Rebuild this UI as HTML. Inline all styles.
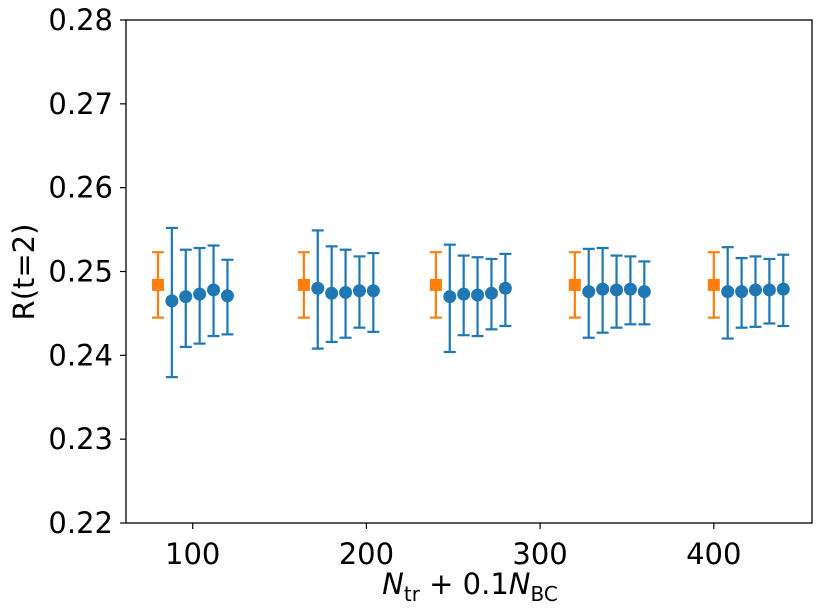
<!DOCTYPE html>
<html><head><meta charset="utf-8"><style>
body{margin:0;background:#fff;}
svg{display:block;font-family:"DejaVu Sans","Liberation Sans",sans-serif;}
</style></head><body>
<svg id="chart" width="831" height="613">
<rect x="0" y="0" width="831" height="613" fill="#fff"/>
<g id="marks"></g>
<g id="axes"></g>
</svg>
<script>
const xTickLabels=[100,200,300,400];
const yTickLabels=[0.22,0.23,0.24,0.25,0.26,0.27,0.28];
const refX=[80,164,240,320,400];
const refY=[0.2484,0.2484,0.2484,0.2484,0.2484];
const refLo=[0.2445,0.2445,0.2445,0.2445,0.2445];
const refHi=[0.2523,0.2523,0.2523,0.2523,0.2523];
const blueX=[88,96,104,112,120, 172,180,188,196,204, 248,256,264,272,280, 328,336,344,352,360, 408,416,424,432,440];
const blueY=[0.2465,0.2470,0.2473,0.2478,0.2471, 0.2480,0.2474,0.2475,0.2477,0.2477, 0.2470,0.2473,0.2472,0.2474,0.2480, 0.2476,0.2479,0.2478,0.2479,0.2476, 0.2476,0.2476,0.2478,0.2478,0.2479];
const blueLo=[0.2374,0.2410,0.2414,0.2423,0.2425, 0.2408,0.2416,0.2421,0.2433,0.2428, 0.2404,0.2424,0.2423,0.2431,0.2435, 0.2421,0.2427,0.2433,0.2437,0.2437, 0.2420,0.2433,0.2434,0.2438,0.2435];
const blueHi=[0.2552,0.2526,0.2528,0.2531,0.2514, 0.2549,0.2530,0.2526,0.2518,0.2522, 0.2532,0.2519,0.2517,0.2515,0.2521, 0.2527,0.2528,0.2519,0.2518,0.2512, 0.2529,0.2516,0.2518,0.2515,0.2520];

const L=126,R=812,T=20,B=523;
const x=v=>192.7+(v-100)*1.737;
const y=v=>B-(v-0.22)*(B-T)/0.06;
const NS="http://www.w3.org/2000/svg";
function mk(tag,attrs,parent){const e=document.createElementNS(NS,tag);for(const k in attrs)e.setAttribute(k,attrs[k]);parent.appendChild(e);return e;}
const marks=document.getElementById('marks'),axes=document.getElementById('axes');

function errbar(cx,lo,hi,col,parent){
  mk('line',{x1:cx,x2:cx,y1:y(lo),y2:y(hi),stroke:col,'stroke-width':2.2},parent);
  mk('line',{x1:cx-6,x2:cx+6,y1:y(lo),y2:y(lo),stroke:col,'stroke-width':2.2},parent);
  mk('line',{x1:cx-6,x2:cx+6,y1:y(hi),y2:y(hi),stroke:col,'stroke-width':2.2},parent);
}
for(let i=0;i<refX.length;i++){
  const g=mk('g',{},marks);
  
  
  const cx=x(refX[i]);
  errbar(cx,refLo[i],refHi[i],'#ff7f0e',g);
  mk('rect',{x:cx-6,y:y(refY[i])-6,width:12,height:12,fill:'#ff7f0e'},g);
}
for(let i=0;i<blueX.length;i++){
  const g=mk('g',{},marks);
  
  
  const cx=x(blueX[i]);
  errbar(cx,blueLo[i],blueHi[i],'#1f77b4',g);
  mk('circle',{cx:cx,cy:y(blueY[i]),r:6.5,fill:'#1f77b4'},g);
}
const frame=mk('rect',{x:L,y:T,width:R-L,height:B-T,fill:'none',stroke:'#000','stroke-width':1.3},axes);


xTickLabels.forEach(v=>{
  const px=x(v);
  mk('line',{x1:px,x2:px,y1:B,y2:B+6,stroke:'#000','stroke-width':1.2},axes);
  const t=mk('text',{x:px,y:B+41,'text-anchor':'middle','font-size':29},axes);
  t.textContent=v;
  
  
});
yTickLabels.forEach(v=>{
  const py=y(v);
  mk('line',{x1:L-6,x2:L,y1:py,y2:py,stroke:'#000','stroke-width':1.2},axes);
  const t=mk('text',{x:L-13,y:py+10,'text-anchor':'end','font-size':29},axes);
  t.textContent=v.toFixed(2);
  
  
});
</script>
<svg style="position:absolute;left:0;top:0" width="831" height="613">
<text x="470" y="594" text-anchor="middle" font-size="29" font-family="DejaVu Sans, Liberation Sans, sans-serif"><tspan font-style="italic">N</tspan><tspan font-size="20" dy="7">tr</tspan><tspan dy="-7"> + 0.1</tspan><tspan font-style="italic">N</tspan><tspan font-size="20" dy="7">BC</tspan></text>
<text transform="translate(34,272) rotate(-90)" text-anchor="middle" font-size="29" font-family="DejaVu Sans, Liberation Sans, sans-serif">R(t=2)</text>
</svg>
</body></html>
